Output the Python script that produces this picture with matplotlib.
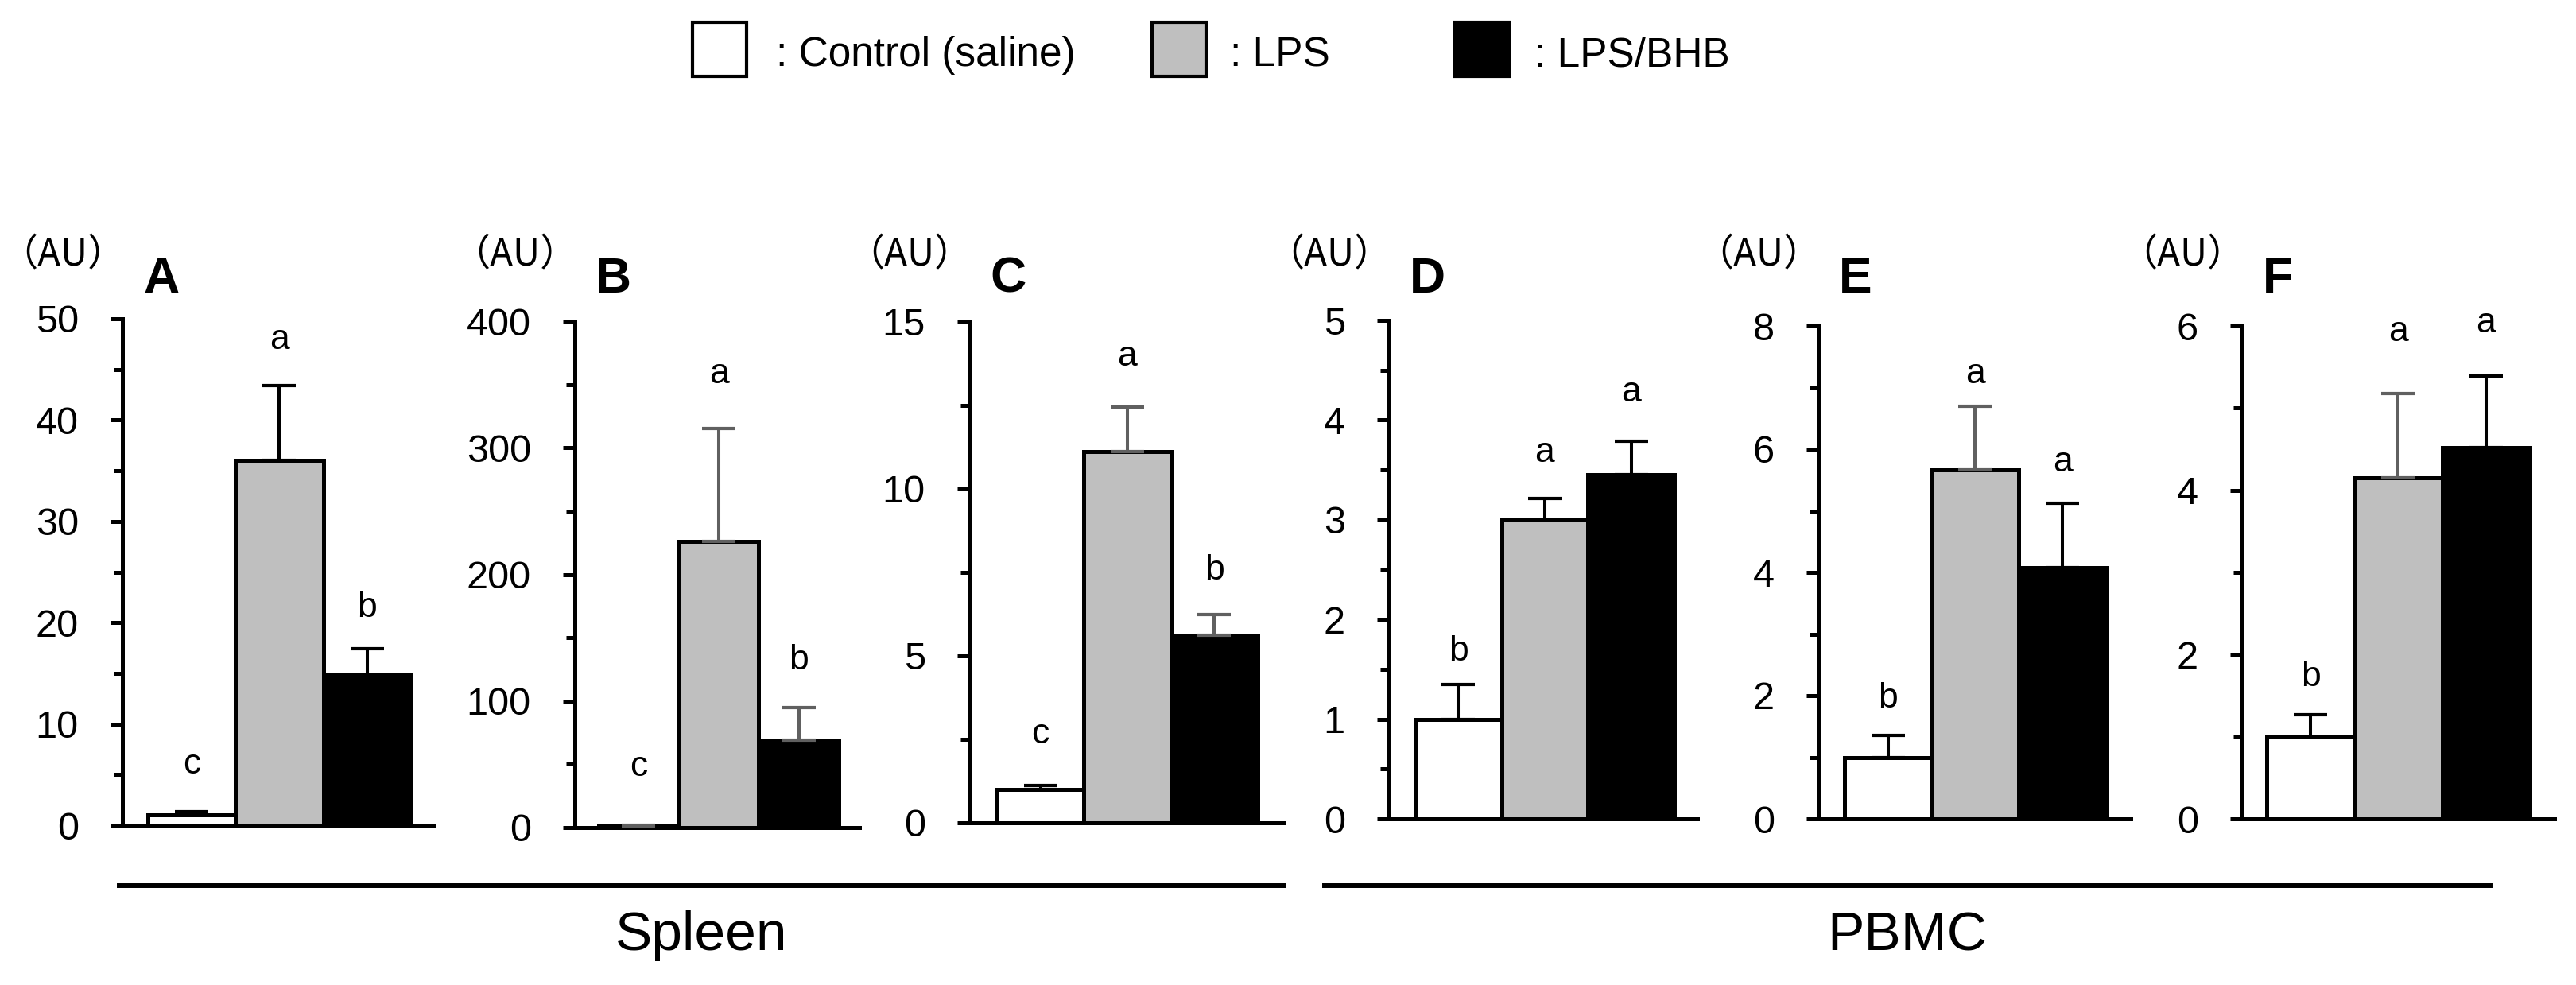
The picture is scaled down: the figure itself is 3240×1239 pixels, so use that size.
import matplotlib
matplotlib.use('Agg')
import matplotlib.pyplot as plt
from matplotlib.patches import Rectangle
from matplotlib.lines import Line2D
from matplotlib.ticker import MultipleLocator

plt.rcParams['font.family'] = ['Liberation Sans', 'DejaVu Sans']

# ---- data ----
groups = ['Control (saline)', 'LPS', 'LPS/BHB']
panels = ['A', 'B', 'C', 'D', 'E', 'F']
tissues = ['Spleen', 'PBMC']

control_mean = [1.0, 1.0, 1.0, 1.0, 0.99, 1.0]
lps_mean = [36.0, 226, 11.12, 3.0, 5.66, 4.15]
bhb_mean = [14.8, 69, 5.62, 3.45, 4.08, 4.52]
control_err = [0.35, 1.0, 0.12, 0.35, 0.36, 0.27]
lps_err = [7.4, 89, 1.33, 0.21, 1.04, 1.03]
bhb_err = [2.6, 26, 0.62, 0.34, 1.04, 0.87]

sig_letters = [['c', 'a', 'b'], ['c', 'a', 'b'], ['c', 'a', 'b'],
               ['b', 'a', 'a'], ['b', 'a', 'a'], ['b', 'a', 'a']]
sig_height = [[5.1, 47.0, 20.6], [41, 351, 125], [2.39, 13.7, 7.28],
              [1.59, 3.58, 4.19], [1.81, 7.07, 5.64], [1.62, 5.82, 5.92]]

y_max = [50, 400, 15, 5, 8, 6]
y_major = [10, 100, 5, 1, 2, 2]

# ---- styling / layout (pixels) ----
W, H, DPI = 3241, 1239, 100
GRAY_ERR = '#606060'
fills = ['white', '#bfbfbf', 'black']
err_colors = [['k', 'k', 'k'], [GRAY_ERR] * 3, ['k', GRAY_ERR, GRAY_ERR],
              ['k', 'k', 'k'], ['k', GRAY_ERR, 'k'], ['k', GRAY_ERR, 'k']]

axis_left = [154, 723, 1219, 1747, 2287, 2820]
axis_right = [546, 1081, 1615, 2135, 2680, 3213]
axis_top = [401, 404, 405, 403, 410, 410]
axis_bottom = [1038, 1041, 1035, 1030, 1030, 1030]
bars_left = [186, 753, 1254, 1780, 2320, 2851]
bars_right = [517, 1055, 1582, 2106, 2649, 3182]


def fx(px):
    return px / W


def fy(py):
    return 1 - py / H


fig = plt.figure(figsize=(W / DPI, H / DPI), dpi=DPI)

for i, name in enumerate(panels):
    l, r, t, b = axis_left[i], axis_right[i], axis_top[i], axis_bottom[i]
    ax = fig.add_axes([fx(l), fy(b), (r - l) / W, (b - t) / H])
    bw = (bars_right[i] - bars_left[i]) / 3
    means = [control_mean[i], lps_mean[i], bhb_mean[i]]
    errs = [control_err[i], lps_err[i], bhb_err[i]]
    ax.bar(range(3), means, width=1.0, color=fills, edgecolor='k',
           linewidth=3.6, zorder=2)
    for j in range(3):
        ax.errorbar(j, means[j], yerr=[[0], [errs[j]]], fmt='none',
                    ecolor=err_colors[i][j], elinewidth=2.9, capsize=15,
                    capthick=3, zorder=3)
        ax.text(j, sig_height[i][j], sig_letters[i][j], ha='center',
                va='baseline', fontsize=32)
    ax.set_xlim(-0.5 - (bars_left[i] - l) / bw, 2.5 + (r - bars_right[i]) / bw)
    ax.set_ylim(0, y_max[i])
    ax.yaxis.set_major_locator(MultipleLocator(y_major[i]))
    ax.yaxis.set_minor_locator(MultipleLocator(y_major[i] / 2))
    ax.set_xticks([])
    for s in ['top', 'right']:
        ax.spines[s].set_visible(False)
    for s in ['left', 'bottom']:
        ax.spines[s].set_linewidth(3.6)
    ax.tick_params(axis='y', which='major', length=10.8, width=3.6,
                   labelsize=35, pad=29)
    ax.tick_params(axis='y', which='minor', length=7.9, width=3.6)
    fig.text(fx(l + 4), fy(333), '（AU）', family=['Noto Sans CJK JP'],
             fontsize=34, ha='right', va='baseline')
    fig.text(fx(l + 26), fy(368), name, fontsize=45, weight='bold',
             ha='left', va='baseline')

# legend at the top
legend_box_x = [871, 1449, 1830]
legend_text_x = [976, 1547, 1930]
for k in range(3):
    fig.patches.append(Rectangle((fx(legend_box_x[k]), fy(96)), 68 / W, 68 / H,
                                 transform=fig.transFigure, facecolor=fills[k],
                                 edgecolor='k', linewidth=3))
    fig.text(fx(legend_text_x[k]), fy(83), ': ' + groups[k], fontsize=37,
             ha='left', va='baseline')

# tissue brackets
bracket_x = [(150, 1615), (1666, 3132)]
for (x0, x1), label in zip(bracket_x, tissues):
    fig.add_artist(Line2D([fx(x0), fx(x1)], [fy(1114), fy(1114)],
                          color='k', linewidth=4.3))
    fig.text(fx((x0 + x1) / 2), fy(1195), label, fontsize=50,
             ha='center', va='baseline')

fig.savefig('out.png', dpi=DPI)
